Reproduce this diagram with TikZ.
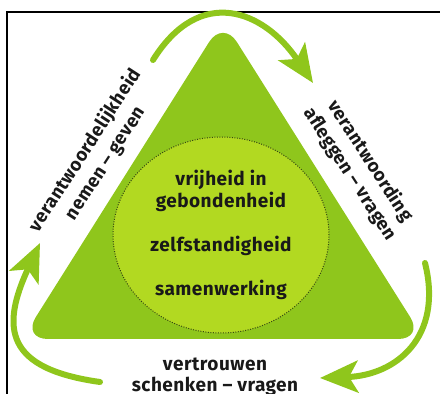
\documentclass[tikz,border=0pt]{standalone}
\usepackage{fontspec}
\setmainfont{Fira Sans}[LetterSpace=2.5]
\usetikzlibrary{shapes,arrows.meta}

\definecolor{leaf}{RGB}{143,198,28}
\definecolor{lime}{RGB}{178,217,33}
\definecolor{dotline}{RGB}{55,72,18}
\definecolor{ink}{RGB}{25,25,25}

\begin{document}
\begin{tikzpicture}[x=1pt, y=1pt]
        % Define styles
        \tikzstyle{core} = [ellipse, fill=lime, draw=dotline, line width=1pt, dash pattern=on 1pt off 1.5pt,
            minimum width=216pt, minimum height=196pt, inner sep=0pt, text=ink, align=center,
            font=\bfseries\fontsize{19}{22}\selectfont]
        \tikzstyle{sidetext} = [text=ink, align=center, font=\bfseries\fontsize{18.5}{24}\selectfont]
        \tikzstyle{turn} = [draw=leaf, line width=6pt, line cap=round,
            -{Stealth[length=38pt, width=32pt, inset=9pt]}]

        \useasboundingbox (0,0) rectangle (440,394);
        \draw[line width=2.5pt] (7,0) -- (7,382) -- (440,382);

        % Triangle
        \fill[leaf, rounded corners=26pt] (223,374) -- (424,55) -- (22,55) -- cycle;

        % Nodes
        \node[core] (core) at (221,159) {vrijheid in\\gebondenheid\\[22pt]zelfstandigheid\\[22pt]samenwerking};
        \node[sidetext, rotate=57] (take) at (95.5,237) {verantwoordelijkheid\\nemen -- geven};
        \node[sidetext, rotate=-57] (account) at (360,226.5) {verantwoording\\afleggen -- vragen};
        \node[sidetext, font=\bfseries\fontsize{19}{21}\selectfont] (trust) at (215,17) {vertrouwen\\schenken -- vragen};

        % Arrow ends
        \coordinate (topstart) at (153,334);
        \coordinate (toptip) at (313,311);
        \coordinate (rightstart) at (425,131);
        \coordinate (righttip) at (320,16);
        \coordinate (leftstart) at (100,12);
        \coordinate (lefttip) at (40,151);

        % Arrows
        \path [turn] (topstart) to[out=58, in=124, looseness=1.4] (toptip);
        \path [turn] (rightstart) to[out=-76, in=2, looseness=1.25] (righttip);
        \path [turn] (leftstart) to[out=172, in=245, looseness=1.6] (lefttip);
    \end{tikzpicture}
\end{document}
